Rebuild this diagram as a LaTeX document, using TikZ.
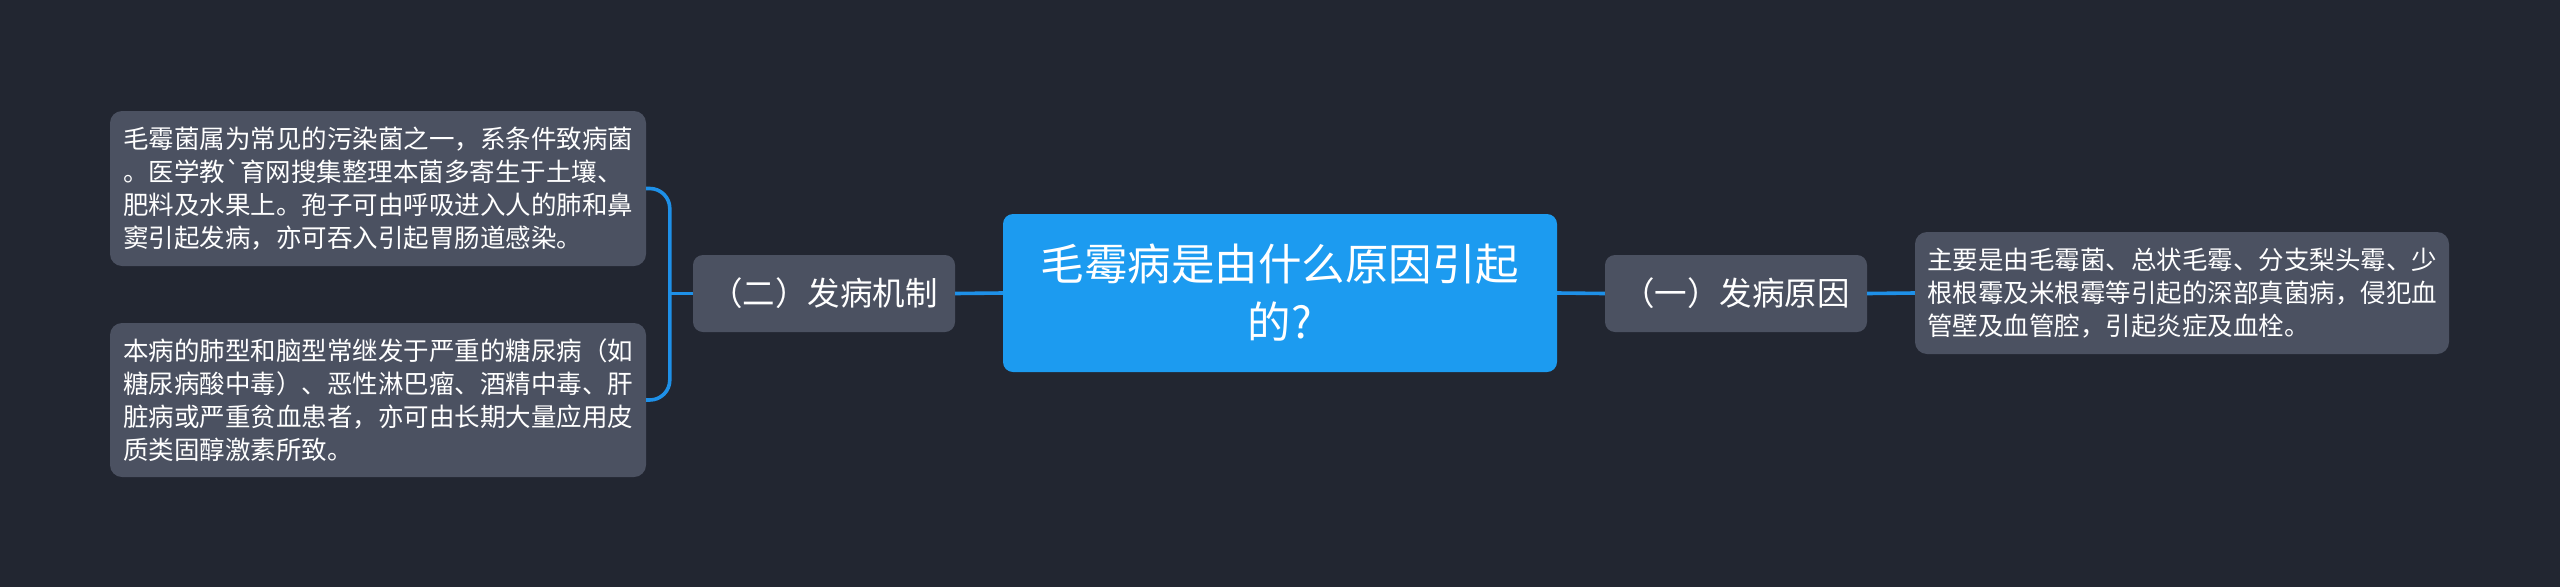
\documentclass[tikz,border=0pt]{standalone}
\usepackage{fontspec}
\setmainfont{Noto Sans CJK SC}[Ligatures=TeXOff]
\definecolor{bgcol}{HTML}{222631}
\definecolor{boxgray}{HTML}{4B5161}
\definecolor{rootblue}{HTML}{1C9BF0}
\definecolor{linkblue}{HTML}{1E90E8}

\begin{document}
\begin{tikzpicture}[x=1pt, y=-1pt,
		rootbox/.style={fill=rootblue, rounded corners=10pt, text=white, align=center, minimum width=554pt, minimum height=158pt, font=\fontsize{43.5}{58}\selectfont},
		topicbox/.style={fill=boxgray, rounded corners=10pt, text=white, minimum width=262pt, minimum height=77pt, font=\fontsize{32.5}{40}\selectfont},
		notebox/.style={fill=boxgray, rounded corners=12pt, text=white, align=left, text width=510pt, inner xsep=13pt, font=\fontsize{25.5}{33}\selectfont},
		link/.style={draw=linkblue, line width=3.6pt}]
		\fill[bgcol] (0,0) rectangle (2560,587);
		\useasboundingbox (0,0) rectangle (2560,587);
		\node[rootbox] (root) at (1280,293) {毛霉病是由什么原因引起\\的?};
		\node[topicbox] (mech) at (824,293.5) {（二）发病机制};
		\node[topicbox] (cause) at (1736,293.5) {（一）发病原因};
		\node[notebox, minimum height=155pt] (mechA) at (378,188.5) {毛霉菌属为常见的污染菌之一，系条件致病菌\\。医学教`育网搜集整理本菌多寄生于土壤、\\肥料及水果上。孢子可由呼吸进入人的肺和鼻\\窦引起发病，亦可吞入引起胃肠道感染。};
		\node[notebox, minimum height=154pt] (mechB) at (378,400) {本病的肺型和脑型常继发于严重的糖尿病（如\\糖尿病酸中毒）、恶性淋巴瘤、酒精中毒、肝\\脏病或严重贫血患者，亦可由长期大量应用皮\\质类固醇激素所致。};
		\node[notebox, minimum height=122pt, inner xsep=12pt] (causeA) at (2182,293) {主要是由毛霉菌、总状毛霉、分支梨头霉、少\\根根霉及米根霉等引起的深部真菌病，侵犯血\\管壁及血管腔，引起炎症及血栓。};
		% connectors
		\draw[link] (root.west) -- (mech.east);
		\draw[link] (root.east) -- (cause.west);
		\draw[link] (cause.east) -- (causeA.west);
		\coordinate (fork) at ([xshift=-23pt]mech.west);
		\draw[link] (mech.west) -- (fork);
		\draw[link, rounded corners=20pt] (mechA.east) -| (fork) |- (mechB.east);
	\end{tikzpicture}
\end{document}
